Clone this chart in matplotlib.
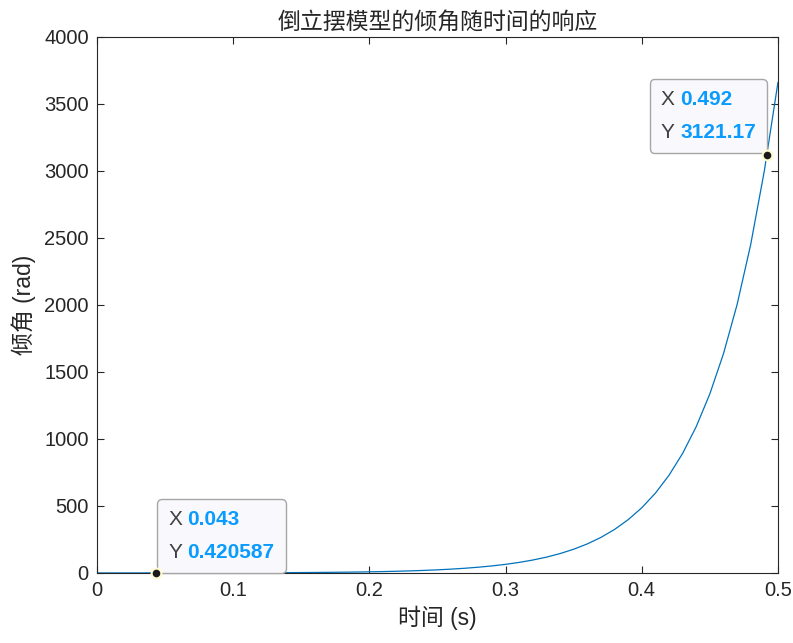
import matplotlib
matplotlib.use("Agg")
import matplotlib.pyplot as plt
from matplotlib.offsetbox import AnnotationBbox, HPacker, VPacker, TextArea

plt.rcParams['font.family'] = ['Liberation Sans', 'Noto Sans CJK SC', 'DejaVu Sans']

# angle response, every 0.01 s
t = [0.00, 0.01, 0.02, 0.03, 0.04, 0.05, 0.06, 0.07, 0.08, 0.09,
     0.10, 0.11, 0.12, 0.13, 0.14, 0.15, 0.16, 0.17, 0.18, 0.19,
     0.20, 0.21, 0.22, 0.23, 0.24, 0.25, 0.26, 0.27, 0.28, 0.29,
     0.30, 0.31, 0.32, 0.33, 0.34, 0.35, 0.36, 0.37, 0.38, 0.39,
     0.40, 0.41, 0.42, 0.43, 0.44, 0.45, 0.46, 0.47, 0.48, 0.49, 0.50]
theta = [0.300, 0.306, 0.325, 0.357, 0.404, 0.467, 0.549, 0.654, 0.785, 0.949,
         1.152, 1.402, 1.709, 2.087, 2.549, 3.117, 3.812, 4.663, 5.706, 6.980,
         8.544, 10.46, 12.80, 15.66, 19.17, 23.47, 28.72, 35.16, 43.03, 52.67,
         64.46, 78.90, 96.58, 118.2, 144.7, 177.1, 216.8, 265.3, 324.7, 397.5,
         486.5, 595.5, 728.9, 892.1, 1092.0, 1336.5, 1635.9, 2002.4, 2450.9, 3000.0,
         3660.0]

# data tips
tip_x = [0.043, 0.492]
tip_y = [0.420587, 3121.17]
tip_xtxt = ["0.043", "0.492"]
tip_ytxt = ["0.420587", "3121.17"]

fig = plt.figure(figsize=(7.93, 6.43), dpi=100)
ax = fig.add_axes([0.1223, 0.1089, 0.8587, 0.8336])

ax.plot(t, theta, color="#0072BD", lw=0.9)
ax.set_xlim(0, 0.5)
ax.set_ylim(0, 4000)
ax.set_xticks([0, 0.1, 0.2, 0.3, 0.4, 0.5])
ax.set_xticklabels(["0", "0.1", "0.2", "0.3", "0.4", "0.5"])
ax.set_yticks(range(0, 4001, 500))

dark = "#262626"
for s in ax.spines.values():
    s.set_color(dark)
    s.set_linewidth(0.8)
ax.tick_params(direction="in", length=5, width=0.8, colors=dark,
               labelsize=14.5, top=True, right=True, pad=6)

ax.set_title("倒立摆模型的倾角随时间的响应", fontsize=16.5, color=dark, pad=6,
             family=['Noto Sans CJK SC', 'DejaVu Sans'])
ax.set_xlabel("时间 (s)", fontsize=16.5, color=dark, labelpad=4)
ax.set_ylabel("倾角 (rad)", fontsize=16.5, color=dark, labelpad=6)

blue = "#0A9BFF"
label_col = "#404040"
pad_pt = 8.0
offsets = [((pad_pt + 1, pad_pt), (0, 0)), ((-pad_pt, pad_pt + 1), (1, 0))]
for i in range(len(tip_x)):
    def row(name, val):
        return HPacker(children=[
            TextArea(name, textprops=dict(color=label_col, fontsize=15)),
            TextArea(val, textprops=dict(color=blue, fontsize=15, fontweight="bold"))],
            pad=0, sep=4, align="baseline")
    box = VPacker(children=[row("X", tip_xtxt[i]), row("Y", tip_ytxt[i])],
                  pad=0, sep=10, align="left")
    shift, align = offsets[i]
    ab = AnnotationBbox(box, (tip_x[i], tip_y[i]), xybox=shift,
                        boxcoords="offset points", box_alignment=align,
                        frameon=True, zorder=5,
                        bboxprops=dict(boxstyle="round,pad=0.8,rounding_size=0.35",
                                       fc="#F9F9FD", ec="#A6A6A6", lw=1.0))
    ax.add_artist(ab)
    ax.plot(tip_x[i], tip_y[i], "o", ms=7, mfc="#1a1a1a", mec="#FFFBD0",
            mew=1.5, zorder=6, clip_on=False)

fig.savefig("out.png", dpi=100)
